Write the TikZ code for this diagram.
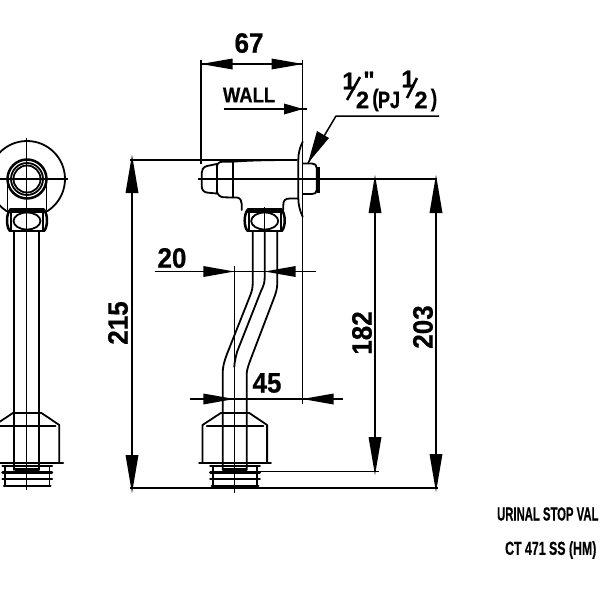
\documentclass[tikz,border=0pt]{standalone}
\usepackage{fontspec}
\setmainfont{Liberation Sans}
\newfontfamily\hv[FakeBold=0.6]{Liberation Sans Bold}
\tikzset{
  thin line/.style={line width=1.5pt,line cap=butt,line join=round},
  part/.style={line width=1.8pt,line join=round,line cap=round},
  heavy/.style={line width=2.5pt,line join=round,line cap=round},
  lbl/.style={inner sep=0pt,yscale=1.08,font=\hv\fontsize{26}{26}\selectfont},
  fractext/.style={inner sep=0pt,font=\hv\fontsize{24}{24}\selectfont},
  titletext/.style={inner sep=0pt,anchor=west,font=\hv\fontsize{19}{19}\selectfont},
}
% arrow heads: tip x/y, signed length
\newcommand{\hhead}[3]{\fill (#1,#2) -- (#1+#3,#2-5.5) -- (#1+#3,#2+5.5) -- cycle;}
\newcommand{\vhead}[3]{\fill (#1,#2) -- (#1-6.5,#2+#3) -- (#1+6.5,#2+#3) -- cycle;}
% nut centred on x
\newcommand{\nutpart}[1]{%
  \draw[heavy] (#1-17,209.5) -- (#1+17,209.5);
  \draw[part] (#1-17,212) -- (#1+17,212);
  \draw[part] (#1-17,231) -- (#1+17,231);
  \draw[heavy] (#1-17,210) .. controls (#1-21,214) and (#1-21,227) .. (#1-17,231);
  \draw[heavy] (#1+17,210) .. controls (#1+21,214) and (#1+21,227) .. (#1+17,231);
  \draw[part] (#1-16,210) -- (#1-16,231);
  \draw[part] (#1+16,210) -- (#1+16,231);
  \draw[part] (#1,221) ellipse [x radius=13.5,y radius=8.5];
}
% base centred on x
\newcommand{\basepart}[1]{%
  \draw[part] (#1-32.3,463) -- (#1-32.3,425) -- (#1-14,413) -- (#1+14.5,413) -- (#1+32.3,425) -- (#1+32.3,463);
  \draw[part] (#1-28,425.7) -- (#1+28.5,425.7);
  \draw[heavy] (#1-35.5,463) -- (#1+36,463);
  \fill (#1-12,468) rectangle (#1+12,472);
  \draw[part] (#1-22,466) -- (#1-22,486);
  \draw[part] (#1+22.5,466) -- (#1+22.5,486);
  \draw[heavy] (#1-24.5,466) -- (#1+25,466);
  \draw[heavy] (#1-24.5,472.5) -- (#1+25,472.5);
  \draw[heavy] (#1-24.5,479) -- (#1+25,479);
  \draw[heavy] (#1-23,486) -- (#1+23.5,486);
}
\begin{document}
\begin{tikzpicture}[x=1pt,y=-1pt]
\useasboundingbox (0,0) rectangle (600,600);
\fill[white] (0,0) rectangle (600,600);

% ---------- left (end) view
\begin{scope}
\clip (0,130) rectangle (80,211);
\draw[part] (27,179) circle [radius=38];
\end{scope}
\draw[heavy] (27,179) circle [radius=19.5];
\draw[part] (27,179) circle [radius=16];
\draw[part] (27,179) circle [radius=13.5];
\draw[part] (7.5,179) -- (7.5,210);
\draw[part] (46.5,179) -- (46.5,210);
\nutpart{27}
\draw[part] (14.3,231) -- (14.3,470);
\draw[part] (39.3,231) -- (39.3,470);
\basepart{27}
\draw[thin line] (26.5,138) -- (26.5,490);
\draw[thin line] (0,179) -- (67.5,179);

% ---------- side view body
\draw[part] (216.7,164) -- (207,166) .. controls (203,167) and (201.7,170) .. (201.7,173)
  -- (201.7,186) .. controls (201.7,190) and (204,192.5) .. (208,192.7) -- (216.7,193.5);
\draw[part] (216.7,167) .. controls (217.5,163) and (219,161.7) .. (223,161.7) -- (232.7,161.7)
  .. controls (255,160) and (280,160) .. (297,160);
\draw[part] (216.7,164) -- (216.7,193.5);
\draw[part] (216.7,191) .. controls (218,195.5) and (220,197) .. (224,197.3) -- (232.7,197.5)
  -- (237,197.5) .. controls (240.5,198) and (241.7,201) .. (241.7,204) -- (241.7,210);
\draw[part] (232.7,161.7) -- (232.7,197.5);
\draw[part] (283.3,210) -- (283.3,205) .. controls (283.3,200.5) and (285,198.5) .. (290,198.5) -- (298,198.5);
% flange
\draw[part] (302.7,141.7) .. controls (300,147) and (298.3,153) .. (298.3,160) -- (298.3,198)
  .. controls (298.3,205) and (300,211) .. (302.7,216.7);
% spigot
\draw[part] (303,163.5) -- (312,163.5) .. controls (315,163.5) and (316.7,165) .. (316.7,168)
  -- (316.7,190) .. controls (316.7,193) and (315,194) .. (312,194) -- (303,194);
\fill (316.7,167) rectangle (320,193);
\nutpart{264.7}
% pipe
\draw[part] (252.7,232) -- (252.7,283) .. controls (252.7,288) and (252,291) .. (250,296)
  -- (227,354) .. controls (224,362) and (222.7,367) .. (222.7,373) -- (222.7,470);
\draw[part] (264.7,232) -- (264.7,277) .. controls (264.7,282) and (264,285) .. (261,291)
  -- (237,352) .. controls (235,360) and (234.3,364) .. (234.3,367);
\draw[part] (277.3,232) -- (277.3,283) .. controls (277.3,288) and (276,293) .. (274,298)
  -- (250,361) .. controls (247.5,368) and (246.7,371) .. (246.7,375) -- (246.7,470);
\basepart{234.8}
\draw[thin line] (234.5,266) -- (234.5,493);
\draw[thin line] (264.5,207) -- (264.5,272);

% ---------- extension lines
\draw[thin line] (201,60) -- (201,164);
\draw[thin line] (302.5,60) -- (302.5,404);
\draw[thin line] (198,179) -- (437,179);
\draw[thin line] (130,160) -- (297,160);
\draw[thin line] (130,488) -- (438,488);
\draw[thin line] (260,471.5) -- (379,471.5);

% ---------- dimensions
\draw[thin line] (201,64) -- (303,64);
\hhead{201}{64}{31.5}\hhead{303}{64}{-31.5}
\draw[thin line] (223.5,109) -- (307,109);
\hhead{303}{109}{-19}
\draw[thin line] (155,271.5) -- (316,271.5);
\hhead{234.3}{271.5}{-31}\hhead{264.7}{271.5}{31}
\draw[thin line] (190,399) -- (343,399);
\hhead{234.3}{399}{-31}\hhead{302.5}{399}{31}
\draw[thin line] (132,160) -- (132,488);
\vhead{132}{155}{38}\vhead{132}{493}{-38}
\draw[thin line] (375,179) -- (375,472);
\vhead{375}{175}{38}\vhead{375}{475}{-38}
\draw[thin line] (436,179) -- (436,488);
\vhead{436}{175}{38}\vhead{436}{492}{-38}

% leader
\draw[thin line] (439,116) -- (336,116) -- (308,163);
\fill (308,163) -- (317,131) -- (329,138) -- cycle;

% ---------- labels
\node[lbl] (d67) at (249,43) {67};
\node[lbl,font=\hv\fontsize{20}{20}\selectfont,xscale=.92] (wall) at (249,95) {WALL};
\node[lbl] (d20) at (172,258) {20};
\node[lbl] (d45) at (267,383) {45};
\node[rotate=90,lbl] (d215) at (118,323) {215};
\node[rotate=90,lbl] (d182) at (362,333) {182};
\node[rotate=90,lbl] (d203) at (423,327) {203};
\node[fractext] (f1) at (349,81) {1};
\node[fractext] (f2) at (362.5,100) {2};
\node[fractext] (fq) at (369,80) {"};
\node[fractext,xscale=.8] (fp) at (375.5,100) {(};
\node[fractext,xscale=.75] (fpj) at (389,100) {PJ};
\node[fractext] (g1) at (408,79) {1};
\node[fractext] (g2) at (421,100) {2};
\node[fractext,xscale=.8] (gp) at (434,100) {)};
\draw[line width=2.6pt] (347,100) -- (360,77);
\draw[line width=2.6pt] (407,98) -- (417,78);
\node[titletext,xscale=.595] (t1) at (497,514) {URINAL STOP VAL};
\node[titletext,xscale=.65] (t2) at (505,550) {CT 471 SS (HM)};
\end{tikzpicture}
\end{document}
